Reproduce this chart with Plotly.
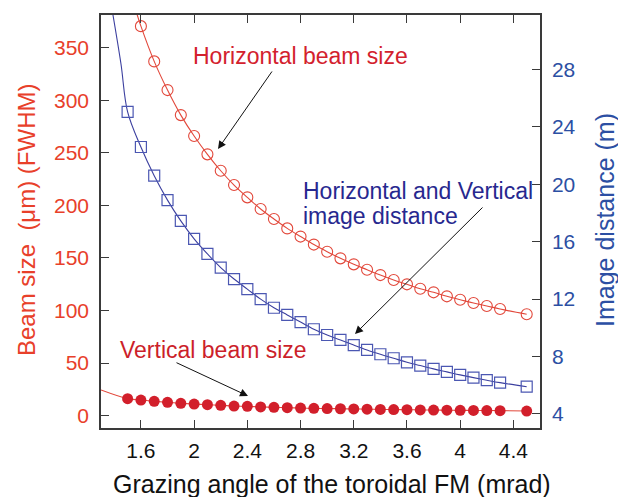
import plotly.graph_objects as go

# ---- data ----
angles = [1.5, 1.6, 1.7, 1.8, 1.9, 2.0, 2.1, 2.2, 2.3, 2.4, 2.5, 2.6, 2.7, 2.8, 2.9,
          3.0, 3.1, 3.2, 3.3, 3.4, 3.5, 3.6, 3.7, 3.8, 3.9, 4.0, 4.1, 4.2, 4.3, 4.5]

# horizontal beam size (um), first angle 1.5 is off the top of the chart
h_angles = angles[1:]
h_beam = [370.4, 336.9, 309.6, 285.8, 265.9, 248.5, 232.9, 219.3, 207.6, 196.5, 187.0,
          178.1, 170.3, 162.7, 155.9, 149.6, 143.9, 138.8, 133.7, 129.0, 124.9, 120.7,
          117.3, 113.5, 110.3, 107.1, 104.3, 101.4, 96.4]
h_curve_start_x = [1.57]
h_curve_start_y = [382.0]

# vertical beam size (um)
v_beam = [16.2, 14.9, 13.7, 12.7, 11.8, 11.1, 10.5, 9.9, 9.2, 8.9, 8.3, 8.0, 7.6, 7.3, 7.0,
          6.8, 6.6, 6.4, 6.2, 6.0, 5.8, 5.7, 5.5, 5.4, 5.2, 5.1, 5.0, 4.9, 4.8, 4.4]
v_curve_start_x = [1.3]
v_curve_start_y = [24.4]

# horizontal and vertical image distance (m)
img_dist = [25.05, 22.6, 20.6, 18.9, 17.45, 16.2, 15.15, 14.2, 13.4, 12.7, 12.0, 11.4,
            10.9, 10.4, 9.9, 9.5, 9.16, 8.8, 8.46, 8.16, 7.88, 7.6, 7.37, 7.14, 6.93,
            6.72, 6.53, 6.35, 6.18, 5.9]
d_curve_start_x = [1.39, 1.45]
d_curve_start_y = [31.8, 28.4]

x_ticks = [1.6, 2.0, 2.4, 2.8, 3.2, 3.6, 4.0, 4.4]
x_tick_labels = ["1.6", "2", "2.4", "2.8", "3.2", "3.6", "4", "4.4"]
left_ticks = [0, 50, 100, 150, 200, 250, 300, 350]
right_ticks = [4, 8, 12, 16, 20, 24, 28]

# ---- styling ----
FONT = "Liberation Sans, Arial, sans-serif"
RED_LINE = "#e2483b"
RED_DOT = "#d21f2b"
BLUE_LINE = "#3b3f9f"
BLUE_MARK = "#4b57b2"
AXIS = "#3a3a3a"
LEFT_TXT = "#e8402a"
RIGHT_TXT = "#2c4fa3"

W, H = 618, 497
L, R, T, B = 101, 540, 15, 428


def px(xp):
    return (xp - L) / (R - L)


def py(yp):
    return (B - yp) / (B - T)


fig = go.Figure()

fig.add_trace(go.Scatter(x=h_curve_start_x + h_angles, y=h_curve_start_y + h_beam,
                         mode="lines", line=dict(color=RED_LINE, width=1.1, shape="spline"),
                         showlegend=False, hoverinfo="skip"))
fig.add_trace(go.Scatter(x=h_angles, y=h_beam, mode="markers",
                         marker=dict(symbol="circle-open", size=11, color=RED_LINE,
                                     line=dict(width=1.1, color=RED_LINE)),
                         showlegend=False))

fig.add_trace(go.Scatter(x=v_curve_start_x + angles, y=v_curve_start_y + v_beam,
                         mode="lines", line=dict(color=RED_LINE, width=1.1, shape="spline"),
                         showlegend=False, hoverinfo="skip"))
fig.add_trace(go.Scatter(x=angles, y=v_beam, mode="markers",
                         marker=dict(symbol="circle", size=11, color=RED_DOT),
                         showlegend=False))

fig.add_trace(go.Scatter(x=d_curve_start_x + angles, y=d_curve_start_y + img_dist,
                         mode="lines", yaxis="y2",
                         line=dict(color=BLUE_LINE, width=1.1, shape="spline"),
                         showlegend=False, hoverinfo="skip"))
fig.add_trace(go.Scatter(x=angles, y=img_dist, mode="markers", yaxis="y2",
                         marker=dict(symbol="square-open", size=11, color=BLUE_MARK,
                                     line=dict(width=1.2, color=BLUE_MARK)),
                         showlegend=False))

ann = []
# axis titles
ann.append(dict(text="Grazing angle of the toroidal FM (mrad)", x=px(332), y=py(483.5),
                xref="paper", yref="paper", showarrow=False, xanchor="center", yanchor="middle",
                font=dict(family=FONT, size=25, color="#111111")))
ann.append(dict(text="Beam size\u00a0\u00a0(μm) (FWHM)", x=px(27), y=py(220),
                xref="paper", yref="paper", showarrow=False, textangle=-90,
                xanchor="center", yanchor="middle",
                font=dict(family=FONT, size=24, color=LEFT_TXT)))
ann.append(dict(text="Image distance (m)", x=px(605), y=py(220),
                xref="paper", yref="paper", showarrow=False, textangle=-90,
                xanchor="center", yanchor="middle",
                font=dict(family=FONT, size=25, color=RIGHT_TXT)))
# labels
ann.append(dict(text="Horizontal beam size", x=px(300), y=py(56), xref="paper", yref="paper",
                showarrow=False, xanchor="center", yanchor="middle",
                font=dict(family=FONT, size=23, color="#d3212d")))
ann.append(dict(text="Vertical beam size", x=px(213), y=py(349.5), xref="paper", yref="paper",
                showarrow=False, xanchor="center", yanchor="middle",
                font=dict(family=FONT, size=23, color="#cc1f2a")))
ann.append(dict(text="Horizontal and Vertical", x=px(301), y=py(191), xref="paper", yref="paper",
                showarrow=False, xanchor="left", yanchor="middle",
                font=dict(family=FONT, size=23, color="#27288f")))
ann.append(dict(text="image distance", x=px(301), y=py(216), xref="paper", yref="paper",
                showarrow=False, xanchor="left", yanchor="middle",
                font=dict(family=FONT, size=23, color="#27288f")))
# arrows (tip, tail offset in px)
for tip, tail in [((218, 149), (273, 70)), ((355, 334), (484, 206)), ((248, 396), (175, 362))]:
    ann.append(dict(text="", x=px(tip[0]), y=py(tip[1]), xref="paper", yref="paper",
                    ax=tail[0] - tip[0], ay=tail[1] - tip[1], showarrow=True,
                    arrowhead=2, arrowsize=1.6, arrowwidth=1, arrowcolor="#111111",
                    standoff=0))

fig.update_layout(
    width=W, height=H,
    margin=dict(l=L, r=W - R, t=T, b=H - B),
    paper_bgcolor="white", plot_bgcolor="white",
    font=dict(family=FONT),
    showlegend=False,
    annotations=ann,
    xaxis=dict(range=[1.3, 4.6], tickvals=x_ticks, ticktext=x_tick_labels,
               ticks="inside", ticklen=8, tickwidth=1, tickcolor=AXIS,
               showline=True, linecolor=AXIS, linewidth=1.5, mirror="ticks",
               showgrid=False, zeroline=False, ticklabelstandoff=3,
               tickfont=dict(family=FONT, size=21, color="#111111")),
    yaxis=dict(range=[-11.7, 381], tickvals=left_ticks,
               ticks="inside", ticklen=8, tickwidth=1, tickcolor=AXIS,
               showline=True, linecolor=AXIS, linewidth=1.5,
               showgrid=False, zeroline=False, ticklabelstandoff=6,
               tickfont=dict(family=FONT, size=21, color=LEFT_TXT)),
    yaxis2=dict(range=[3.02, 31.8], tickvals=right_ticks, overlaying="y", side="right",
                ticks="inside", ticklen=8, tickwidth=1, tickcolor=AXIS,
                showline=True, linecolor=AXIS, linewidth=1.5,
                showgrid=False, zeroline=False, ticklabelstandoff=6,
                tickfont=dict(family=FONT, size=21, color=RIGHT_TXT)),
)

fig.write_html("out.html", config={"displayModeBar": False},
               post_script="document.body.style.margin='0';document.body.style.padding='0';")
